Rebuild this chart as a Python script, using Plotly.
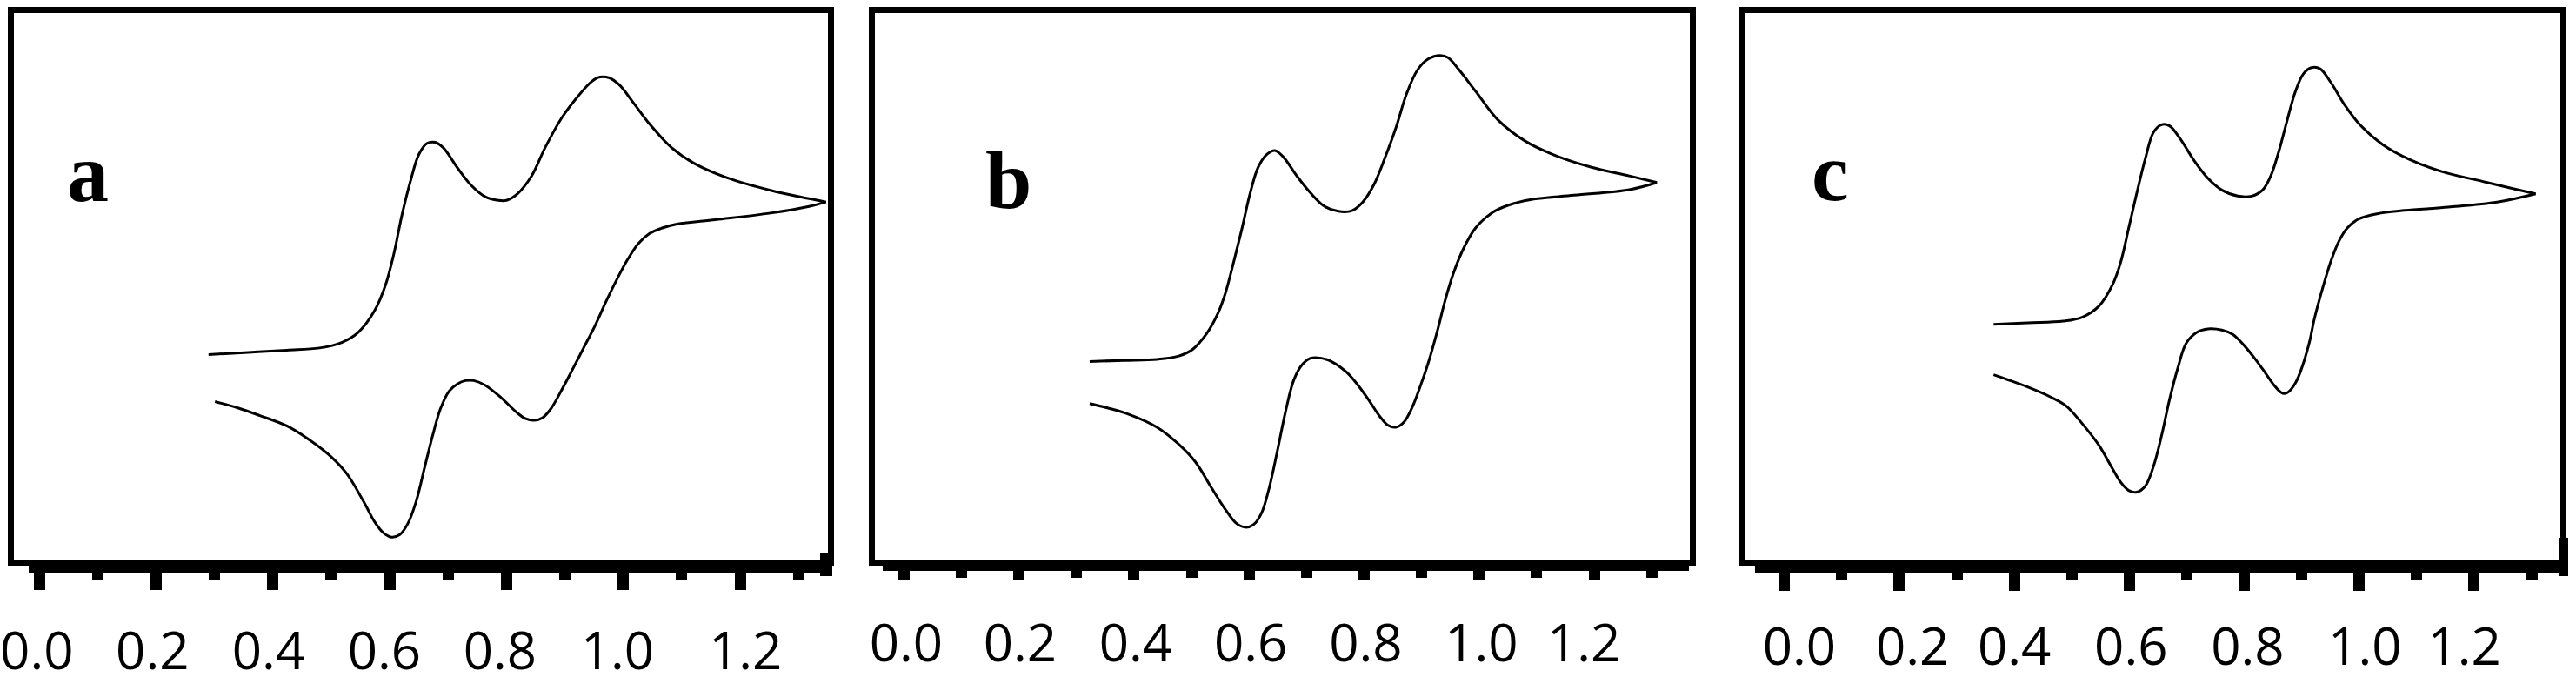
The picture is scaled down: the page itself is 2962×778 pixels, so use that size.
import plotly.graph_objects as go

# cyclic voltammograms a, b, c  (potential in V, current in arbitrary units 0-100)

# panel a
a_fwd_v = [0.290, 0.358, 0.424, 0.480, 0.518, 0.546, 0.574, 0.593, 0.607, 0.621,
           0.636, 0.650, 0.664, 0.678, 0.692, 0.716, 0.739, 0.763, 0.786, 0.800,
           0.819, 0.843, 0.866, 0.895, 0.923, 0.946, 0.960, 0.975, 0.993, 1.017,
           1.045, 1.083, 1.121, 1.177, 1.252, 1.318, 1.347]
a_fwd_i = [37.7, 38.1, 38.5, 38.9, 39.9, 41.7, 45.6, 50.3, 55.8, 62.9,
           69.2, 73.9, 75.9, 76.1, 75.1, 71.5, 68.4, 66.3, 65.6, 65.6,
           66.8, 70.0, 75.1, 80.6, 84.5, 87.1, 87.9, 87.8, 86.5, 83.3,
           79.4, 75.1, 72.3, 69.7, 67.4, 65.9, 65.3]
a_rev_v = [1.347, 1.318, 1.252, 1.158, 1.092, 1.064, 1.045, 1.026, 1.008, 0.989,
           0.970, 0.951, 0.932, 0.913, 0.895, 0.876, 0.862, 0.847, 0.833, 0.819,
           0.791, 0.763, 0.744, 0.730, 0.716, 0.702, 0.687, 0.673, 0.659, 0.645,
           0.631, 0.617, 0.603, 0.589, 0.574, 0.556, 0.527, 0.499, 0.461, 0.424,
           0.377, 0.339, 0.301]
a_rev_i = [65.3, 64.5, 63.3, 62.1, 61.3, 60.5, 59.6, 57.8, 55.0, 51.3,
           47.2, 42.8, 38.9, 35.0, 31.4, 27.9, 26.3, 25.8, 26.1, 27.1,
           29.9, 32.2, 33.0, 33.0, 32.4, 31.1, 27.9, 22.8, 16.9, 11.0,
           7.1, 5.1, 4.7, 5.5, 7.5, 11.0, 16.1, 19.3, 22.4, 24.8,
           26.7, 28.1, 29.2]

# panel b
b_fwd_v = [0.323, 0.382, 0.440, 0.478, 0.502, 0.526, 0.545, 0.559, 0.573, 0.588,
           0.602, 0.616, 0.631, 0.645, 0.659, 0.683, 0.707, 0.731, 0.755, 0.779,
           0.798, 0.817, 0.836, 0.855, 0.874, 0.893, 0.912, 0.932, 0.946, 0.965,
           0.994, 1.032, 1.080, 1.137, 1.194, 1.261, 1.309]
b_fwd_i = [36.4, 36.6, 36.8, 37.4, 38.6, 41.4, 44.9, 48.8, 54.3, 60.6,
           66.9, 71.6, 73.9, 74.6, 73.5, 70.0, 66.9, 64.5, 63.6, 63.7,
           65.3, 68.4, 73.2, 78.6, 84.9, 89.2, 91.2, 91.8, 91.4, 89.2,
           85.3, 80.2, 76.3, 73.5, 71.6, 70.0, 68.8]
b_rev_v = [1.309, 1.261, 1.165, 1.089, 1.051, 1.022, 0.994, 0.974, 0.955, 0.941,
           0.927, 0.912, 0.898, 0.884, 0.869, 0.855, 0.841, 0.827, 0.807, 0.788,
           0.769, 0.745, 0.726, 0.707, 0.693, 0.678, 0.664, 0.650, 0.635, 0.621,
           0.607, 0.593, 0.578, 0.559, 0.535, 0.507, 0.478, 0.440, 0.392, 0.354,
           0.323]
b_rev_i = [68.8, 67.5, 66.5, 65.7, 64.7, 63.3, 60.6, 57.1, 52.3, 47.5,
           41.8, 36.3, 32.0, 28.2, 25.4, 24.5, 24.9, 26.5, 29.6, 32.3,
           34.5, 36.3, 37.0, 37.0, 35.9, 33.1, 27.6, 20.6, 13.5, 8.8,
           6.8, 6.4, 7.1, 9.6, 13.5, 18.2, 21.4, 24.5, 26.8, 28.0,
           28.8]

# panel c
c_fwd_v = [0.364, 0.423, 0.485, 0.518, 0.547, 0.571, 0.585, 0.599, 0.613, 0.628,
           0.642, 0.656, 0.670, 0.689, 0.713, 0.737, 0.761, 0.789, 0.813, 0.832,
           0.846, 0.860, 0.875, 0.889, 0.903, 0.917, 0.932, 0.951, 0.974, 1.003,
           1.041, 1.088, 1.145, 1.221, 1.269, 1.307]
c_fwd_i = [43.2, 43.5, 43.8, 44.5, 46.5, 50.4, 54.4, 60.6, 66.9, 73.2,
           77.9, 79.3, 79.1, 76.7, 72.8, 69.6, 67.5, 66.4, 66.4, 67.5,
           70.0, 74.4, 80.2, 85.3, 88.5, 89.6, 89.4, 86.9, 83.0, 79.1,
           75.7, 73.0, 70.8, 68.9, 67.7, 66.8]
c_rev_v = [1.307, 1.240, 1.155, 1.079, 1.031, 0.998, 0.979, 0.965, 0.951, 0.936,
           0.922, 0.913, 0.898, 0.889, 0.877, 0.870, 0.863, 0.852, 0.837, 0.818,
           0.799, 0.780, 0.761, 0.737, 0.718, 0.699, 0.685, 0.670, 0.656, 0.642,
           0.628, 0.613, 0.599, 0.585, 0.571, 0.547, 0.518, 0.490, 0.461, 0.423,
           0.386, 0.364]
c_rev_i = [66.8, 65.3, 64.4, 63.8, 63.2, 62.2, 60.6, 58.3, 54.7, 49.6,
           44.2, 39.8, 34.7, 32.6, 31.0, 30.7, 31.0, 32.2, 34.4, 37.1,
           39.5, 41.4, 42.2, 42.4, 41.8, 39.8, 35.5, 29.6, 23.0, 17.5,
           14.0, 12.9, 13.2, 14.7, 17.1, 21.4, 25.3, 28.5, 30.2, 31.9,
           33.3, 34.1]

panel_names = ["a", "b", "c"]
tick_text = ["0.0", "0.2", "0.4", "0.6", "0.8", "1.0", "1.2"]
label_pos_a = [-0.004, 0.194, 0.393, 0.591, 0.789, 0.990, 1.209]
label_pos_b = [0.004, 0.202, 0.403, 0.603, 0.803, 1.004, 1.182]
label_pos_c = [0.026, 0.223, 0.400, 0.603, 0.806, 1.010, 1.183]

W, H = 2962, 778
LW = 6.5  # frame thickness

# pixel layout of each panel: frame, scale, tick bar, little end block
panels = [
    dict(L=12.3, R=955, T=11.7, B=647, zero=45, ppv=671.7,
         barL=33, barR=957, barY=657.5, barW=9, major=20, minor=8, labY=738,
         stub=(943, 635, 957, 662),
         letter=(101, 231), fwd=(a_fwd_v, a_fwd_i), rev=(a_rev_v, a_rev_i), labs=label_pos_a),
    dict(L=1003, R=1946, T=11.7, B=646.5, zero=1039.3, ppv=661.5,
         barL=1015, barR=1942, barY=656, barW=12, major=11, minor=8, labY=729,
         stub=None,
         letter=(1159, 238), fwd=(b_fwd_v, b_fwd_i), rev=(b_rev_v, b_rev_i), labs=label_pos_b),
    dict(L=2003.7, R=2947, T=11.7, B=647.5, zero=2051.7, ppv=661,
         barL=2018, barR=2953, barY=657.5, barW=9, major=21, minor=8, labY=733,
         stub=(2942, 618, 2953, 662),
         letter=(2104, 229), fwd=(c_fwd_v, c_fwd_i), rev=(c_rev_v, c_rev_i), labs=label_pos_c),
]

fig = go.Figure()
layout = {}
font = "Open Sans"

for k, p in enumerate(panels):
    n = k + 1
    xb = k + 1                     # frame axis
    xt, xl = k + 4, k + 7          # tick bar axis, label axis
    xname = lambda i: "x" if i == 1 else "x%d" % i
    yname = "y" if n == 1 else "y%d" % n

    il, ir = p["L"] + LW / 2, p["R"] - LW / 2
    it, ib = p["T"] + LW / 2, p["B"] - LW / 2
    ppy = (p["B"] - p["T"]) / 100.0

    layout["xaxis" if xb == 1 else "xaxis%d" % xb] = dict(
        domain=[il / W, ir / W],
        range=[(il - p["zero"]) / p["ppv"], (ir - p["zero"]) / p["ppv"]],
        showline=True, mirror=True, linewidth=LW, linecolor="black",
        showgrid=False, zeroline=False, ticks="", showticklabels=False,
        anchor=yname, automargin=False)
    layout["yaxis" if n == 1 else "yaxis%d" % n] = dict(
        domain=[1 - ib / H, 1 - it / H],
        range=[(p["B"] - ib) / ppy, 100 - (it - p["T"]) / ppy],
        showline=True, mirror=True, linewidth=LW, linecolor="black",
        showgrid=False, zeroline=False, ticks="", showticklabels=False,
        anchor=xname(xb), automargin=False)

    # tick bar under the frame
    bl, br = p["barL"], p["barR"]
    layout["xaxis%d" % xt] = dict(
        domain=[bl / W, br / W],
        range=[(bl - p["zero"]) / p["ppv"], (br - p["zero"]) / p["ppv"]],
        anchor="free", position=1 - (p["barY"] - p["barW"] / 2) / H,
        showline=True, linewidth=p["barW"], linecolor="black",
        showgrid=False, zeroline=False, showticklabels=False, automargin=False,
        ticks="outside", tick0=0, dtick=0.2, ticklen=p["major"], tickwidth=13, tickcolor="black",
        minor=dict(ticks="outside", dtick=0.1, tick0=0, ticklen=p["minor"], tickwidth=13,
                   tickcolor="black", showgrid=False))

    # tick labels
    layout["xaxis%d" % xl] = dict(
        domain=[bl / W, br / W],
        range=[(bl - p["zero"]) / p["ppv"], (br - p["zero"]) / p["ppv"]],
        anchor="free", position=1 - (p["labY"] - 30) / H,
        showline=False, showgrid=False, zeroline=False, ticks="", automargin=False,
        tickmode="array", tickvals=p["labs"], ticktext=tick_text,
        tickfont=dict(family=font, size=60, color="black"))

    for v, i in (p["fwd"], p["rev"]):
        fig.add_trace(go.Scatter(x=v, y=i, mode="lines", xaxis=xname(xb), yaxis=yname,
                                 line=dict(color="black", width=3, shape="spline", smoothing=1.0),
                                 showlegend=False, hoverinfo="skip"))
    for ax in (xt, xl):
        fig.add_trace(go.Scatter(x=[None], y=[None], xaxis="x%d" % ax, yaxis=yname,
                                 showlegend=False, hoverinfo="skip"))

    # thick little block where frame and tick bar meet on the right
    if p["stub"]:
        x0, y0, x1, y1 = p["stub"]
        fig.add_shape(type="rect", xref="paper", yref="paper",
                      x0=x0 / W, x1=x1 / W, y0=1 - y1 / H, y1=1 - y0 / H,
                      fillcolor="black", line_width=0)

    fig.add_annotation(text="<b>%s</b>" % panel_names[k], xref="paper", yref="paper",
                       x=p["letter"][0] / W, y=1 - (p["letter"][1] - 32) / H,
                       xanchor="center", yanchor="middle", showarrow=False,
                       font=dict(family="Liberation Serif", size=96, color="black"))

fig.update_layout(**layout)
fig.update_layout(width=W, height=H, margin=dict(l=0, r=0, t=0, b=0, autoexpand=False),
                  paper_bgcolor="white", plot_bgcolor="rgba(0,0,0,0)", showlegend=False)

# no page margin so the figure sits at the window's corner
fig.write_html("out.html", config={"displayModeBar": False},
               post_script="document.body.style.margin='0px';")
